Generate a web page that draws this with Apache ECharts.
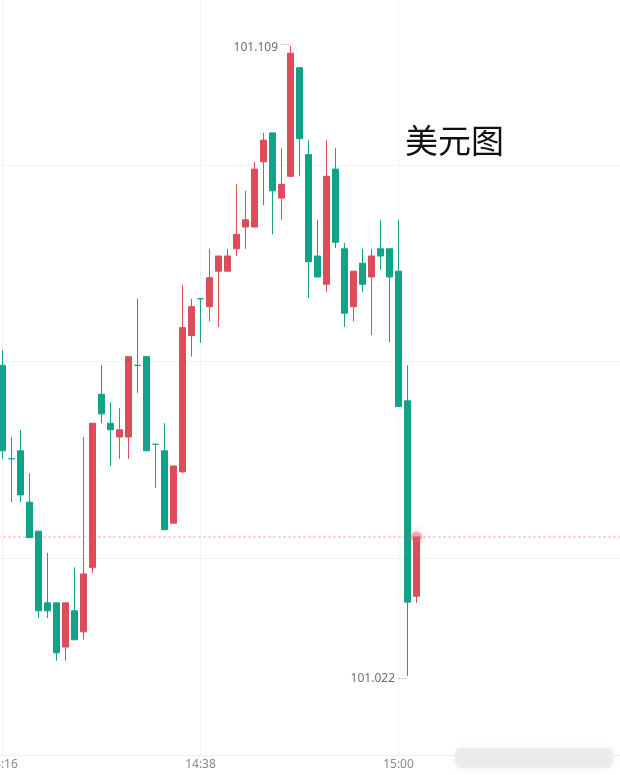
<!DOCTYPE html>
<html>
<head>
<meta charset="utf-8">
<script src="https://cdn.jsdelivr.net/npm/echarts@6/dist/echarts.min.js"></script>
<style>
html,body{margin:0;padding:0;background:#fff;}
#c{width:620px;height:775px;}
</style>
</head>
<body>
<div id="c"></div>
<script>
// category axis (one slot per minute; first slot is a pad before 14:16)
var categories = ['14:15','14:16','14:17','14:18','14:19','14:20','14:21','14:22','14:23','14:24','14:25',
  '14:26','14:27','14:28','14:29','14:30','14:31','14:32','14:33','14:34','14:35',
  '14:36','14:37','14:38','14:39','14:40','14:41','14:42','14:43','14:44','14:45',
  '14:46','14:47','14:48','14:49','14:50','14:51','14:52','14:53','14:54','14:55',
  '14:56','14:57','14:58','14:59','15:00','15:01','15:02','15:03','15:04','15:05',
  '15:06','15:07','15:08','15:09','15:10','15:11','15:12','15:13','15:14','15:15',
  '15:16','15:17','15:18','15:19','15:20','15:21','15:22','15:23','15:24','15:25'];
// candle times
var times = ['14:16','14:17','14:18','14:19','14:20','14:21','14:22','14:23','14:24','14:25',
  '14:26','14:27','14:28','14:29','14:30','14:31','14:32','14:33','14:34','14:35',
  '14:36','14:37','14:38','14:39','14:40','14:41','14:42','14:43','14:44','14:45',
  '14:46','14:47','14:48','14:49','14:50','14:51','14:52','14:53','14:54','14:55',
  '14:56','14:57','14:58','14:59','15:00','15:01','15:02'];
var opens = [101.0649,101.0520,101.0531,101.0460,101.0420,101.0321,101.0321,101.0260,101.0310,101.0281,
  101.0370,101.0609,101.0569,101.0550,101.0550,101.0649,101.0661,101.0540,101.0531,101.0431,
  101.0502,101.0690,101.0741,101.0730,101.0779,101.0779,101.0810,101.0840,101.0840,101.0930,
  101.0970,101.0880,101.0910,101.1060,101.0940,101.0800,101.0761,101.0920,101.0810,101.0730,
  101.0790,101.0771,101.0810,101.0810,101.0779,101.0600,101.0330];
var closes = [101.0531,101.0520,101.0470,101.0411,101.0310,101.0310,101.0252,101.0321,101.0270,101.0361,
  101.0569,101.0582,101.0560,101.0560,101.0661,101.0649,101.0531,101.0540,101.0422,101.0510,
  101.0701,101.0730,101.0741,101.0770,101.0800,101.0800,101.0830,101.0850,101.0920,101.0960,
  101.0890,101.0899,101.1080,101.0962,101.0792,101.0771,101.0910,101.0819,101.0721,101.0779,
  101.0761,101.0800,101.0800,101.0771,101.0592,101.0322,101.0412];
var lows = [101.0520,101.0460,101.0460,101.0411,101.0300,101.0300,101.0241,101.0241,101.0270,101.0270,
  101.0362,101.0569,101.0510,101.0520,101.0520,101.0611,101.0531,101.0480,101.0422,101.0431,
  101.0500,101.0661,101.0680,101.0710,101.0702,101.0779,101.0800,101.0810,101.0840,101.0870,
  101.0830,101.0850,101.0910,101.0910,101.0742,101.0771,101.0750,101.0811,101.0702,101.0710,
  101.0750,101.0691,101.0781,101.0681,101.0592,101.0220,101.0321];
var highs = [101.0670,101.0550,101.0560,101.0500,101.0420,101.0390,101.0321,101.0321,101.0370,101.0550,
  101.0569,101.0649,101.0598,101.0590,101.0661,101.0741,101.0661,101.0540,101.0569,101.0510,
  101.0760,101.0741,101.0741,101.0810,101.0800,101.0810,101.0899,101.0890,101.0930,101.0970,
  101.0970,101.0949,101.1090,101.1060,101.0960,101.0850,101.0960,101.0949,101.0818,101.0779,
  101.0810,101.0810,101.0850,101.0810,101.0850,101.0649,101.0412];
var tickLabels = ['14:16','14:38','15:00'];

var UP = '#de4c5a', DOWN = '#11a389';

var candleData = times.map(function(t, i){ return [t, opens[i], closes[i], lows[i], highs[i]]; });

var hiIdx = 0, loIdx = 0;
highs.forEach(function(v,i){ if (v > highs[hiIdx]) hiIdx = i; });
lows.forEach(function(v,i){ if (v < lows[loIdx]) loIdx = i; });
var hiVal = highs[hiIdx], loVal = lows[loIdx];
var lastIdx = times.length - 1;
var lastClose = closes[lastIdx];

var chart = echarts.init(document.getElementById('c'));
var option = {
  animation: false,
  backgroundColor: '#ffffff',
  title: {
    text: '美元图',
    left: 400, top: 119,
    textStyle: { fontSize: 33, fontWeight: 'normal', color: '#111111', fontFamily: 'Noto Sans CJK SC' }
  },
  grid: { left: -6.5, top: -32, width: 630, bottom: 20, containLabel: false, outerBoundsMode: 'none' },
  xAxis: {
    type: 'category',
    data: categories,
    boundaryGap: false,
    axisLine: { show: true, lineStyle: { color: '#eeeeee' } },
    axisTick: { show: false },
    axisLabel: {
      interval: function(i, v){ return tickLabels.indexOf(v) >= 0; },
      color: '#8a8a8a', fontSize: 12, margin: 4,
      fontFamily: 'Noto Sans, sans-serif'
    },
    splitLine: {
      show: true,
      interval: function(i, v){ return tickLabels.indexOf(v) >= 0; },
      lineStyle: { color: '#f2f2f2', width: 1 }
    }
  },
  yAxis: [
    { type: 'value', min: 101.01109, max: 101.11977, show: false, splitLine: { show: false }, scale: true },
    { type: 'value', min: 0, max: 4, interval: 1, axisLine: { show: false }, axisTick: { show: false },
      axisLabel: { show: false }, splitLine: { show: true, lineStyle: { color: '#f2f2f2', width: 1 } } }
  ],
  series: [
    {
      type: 'line',
      data: [[categories[0], lastClose], [categories[categories.length - 1], lastClose]],
      symbol: 'none',
      silent: true,
      z: 1,
      lineStyle: { color: '#f08a98', type: [2, 3], width: 1 }
    },
    {
      type: 'candlestick',
      data: candleData,
      encode: { x: 0, y: [1, 2, 3, 4] },
      barWidth: 7,
      z: 2,
      itemStyle: {
        color: UP, color0: DOWN, borderColor: UP, borderColor0: DOWN,
        borderColorDoji: DOWN, borderWidth: 1
      },
      markLine: {
        silent: true,
        precision: 5,
        symbol: ['none', 'none'],
        label: { show: false },
        lineStyle: { color: '#888', type: [1, 2], width: 1 },
        emphasis: { disabled: true },
        data: [
          [ { coord: [categories[categories.indexOf(times[hiIdx]) - 1], hiVal + 0.0002] },
            { coord: [times[hiIdx], hiVal + 0.0002] } ],
          [ { coord: [categories[categories.indexOf(times[loIdx]) - 1], loVal - 0.0003] },
            { coord: [times[loIdx], loVal - 0.0003] } ]
        ]
      },
      markPoint: {
        silent: true,
        symbol: 'circle', symbolSize: 1,
        itemStyle: { color: 'rgba(0,0,0,0)' },
        label: { show: true, position: 'left', distance: 12, color: '#6f6f6f', fontSize: 12, fontFamily: 'Noto Sans, sans-serif' },
        data: [
          { coord: [times[hiIdx], hiVal], value: hiVal, label: { formatter: hiVal.toFixed(3), offset: [0, 2] } },
          { coord: [times[loIdx], loVal], value: loVal, label: { formatter: loVal.toFixed(3), offset: [0, 3] } }
        ]
      }
    },
    {
      type: 'scatter',
      data: [[times[lastIdx], lastClose]],
      symbolSize: 11,
      silent: true,
      z: 5,
      itemStyle: { color: 'rgba(232,90,105,0.55)', shadowBlur: 8, shadowColor: 'rgba(232,90,105,0.8)' }
    }
  ],
  graphic: [
    { type: 'rect', shape: { x: 455, y: 748, width: 158, height: 20, r: 6 }, silent: true,
      style: { fill: 'rgba(215,215,215,0.35)', shadowBlur: 10, shadowColor: 'rgba(200,200,200,0.6)' } }
  ]
};
chart.setOption(option);
</script>
</body>
</html>
